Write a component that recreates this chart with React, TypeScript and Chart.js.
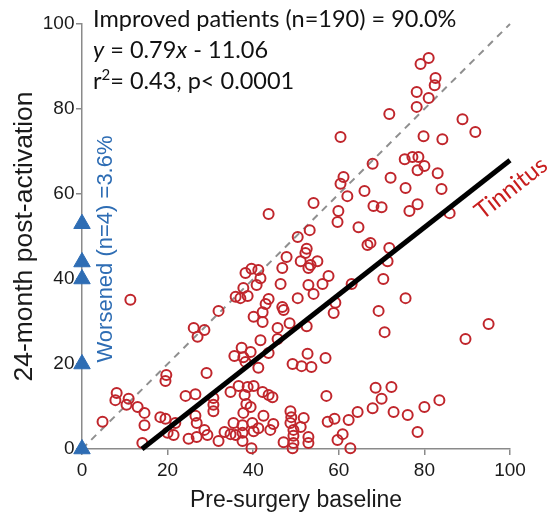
import { useEffect, useRef } from "react";
import { Chart, registerables } from "chart.js";

Chart.register(...registerables);

// Tinnitus scores per patient: pre-surgery baseline (x) and 24-month post-activation (y)
const preSurgeryBaseline: number[] = [
  81.0, 79.1, 82.6, 82.4, 78.2, 81.0, 78.2, 71.8, 88.9, 91.9,
  60.4, 79.8, 84.2, 75.4, 77.2, 78.6, 67.9, 80.0, 78.4, 83.1,
  61.1, 72.1, 60.4, 75.6, 66.0, 84.0, 62.0, 54.1, 68.1, 70.0,
  78.4, 76.5, 85.9, 43.6, 59.9, 59.7, 64.6, 53.2, 50.4, 52.5,
  52.2, 66.7, 67.4, 71.8, 47.8, 51.1, 55.0, 53.4, 52.9, 46.8,
  71.4, 70.4, 38.2, 39.6, 41.2, 41.7, 40.8, 57.6, 46.4, 52.9,
  56.2, 63.0, 37.7, 38.7, 35.9, 54.1, 50.4, 43.6, 75.6, 37.0,
  11.3, 31.9, 26.1, 28.6, 27.0, 42.9, 42.2, 40.1, 42.2, 45.7,
  46.8, 47.1, 69.3, 59.2, 58.8, 48.5, 52.5, 70.7, 89.6, 95.0,
  41.7, 45.7, 43.6, 35.6, 37.3, 37.7, 39.4, 38.2, 41.2, 52.7,
  56.9, 49.2, 51.3, 53.6, 19.7, 19.5, 29.1, 24.2, 26.5, 8.1,
  7.8, 10.9, 10.4, 13.0, 14.6, 14.6, 14.1, 4.8, 18.3, 19.5,
  21.8, 20.0, 21.4, 26.5, 26.8, 24.9, 26.8, 28.6, 29.3, 30.7,
  30.7, 30.7, 31.9, 33.3, 34.7, 35.4, 35.9, 37.5, 37.5, 34.7,
  36.6, 38.7, 40.1, 42.2, 43.6, 44.5, 38.0, 38.4, 39.4, 37.7,
  37.5, 39.8, 41.2, 44.0, 40.1, 39.6, 47.1, 48.7, 48.9, 48.7,
  49.4, 49.4, 49.4, 49.2, 42.4, 44.7, 51.1, 51.8, 52.9, 52.9,
  57.1, 68.6, 72.3, 70.0, 67.9, 72.8, 76.1, 80.0, 83.5, 64.4,
  62.3, 59.0, 57.4, 60.9, 59.7, 62.7, 78.4,
];

const postActivation24m: number[] = [
  92.0, 90.6, 87.3, 85.6, 84.0, 82.6, 80.5, 78.8, 77.6, 74.6,
  73.4, 73.6, 72.9, 68.2, 68.7, 68.7, 67.1, 66.6, 65.6, 64.9,
  64.0, 63.8, 62.4, 61.4, 60.7, 61.2, 59.5, 57.9, 57.2, 56.9,
  57.6, 56.0, 55.5, 55.3, 56.0, 53.4, 52.2, 51.5, 49.9, 47.1,
  46.1, 48.0, 48.5, 47.3, 45.2, 44.2, 44.2, 43.3, 42.6, 42.6,
  44.2, 40.0, 41.4, 42.4, 42.1, 40.2, 38.6, 40.7, 38.8, 38.6,
  38.8, 38.8, 37.9, 36.0, 35.8, 36.5, 35.5, 35.3, 35.5, 35.5,
  35.1, 32.5, 28.5, 28.0, 26.4, 34.1, 32.2, 31.1, 29.9, 28.5,
  33.4, 32.7, 32.5, 34.4, 32.0, 29.6, 28.9, 27.5, 25.9, 29.4,
  25.6, 25.9, 22.6, 21.9, 23.8, 21.6, 22.8, 20.5, 19.1, 22.4,
  21.4, 20.0, 19.5, 19.3, 17.4, 16.0, 17.9, 12.5, 12.9, 13.2,
  11.5, 11.8, 10.4, 9.9, 8.5, 5.6, 1.4, 6.4, 7.5, 7.1,
  6.1, 3.8, 3.3, 7.8, 6.1, 2.4, 2.8, 4.5, 3.3, 12.0,
  10.4, 8.9, 1.9, 4.0, 3.5, 6.1, 3.3, 3.8, 1.9, 13.4,
  14.8, 14.6, 14.8, 13.4, 12.7, 12.2, 12.7, 10.6, 9.9, 8.5,
  5.6, 6.1, 4.9, 4.5, 4.2, 0.2, 1.6, 8.9, 7.5, 6.1,
  4.5, 3.1, 1.4, 0.2, 7.8, 5.9, 5.2, 7.3, 2.8, 1.4,
  12.5, 14.4, 14.6, 11.8, 9.6, 8.7, 8.0, 9.9, 11.5, 8.7,
  6.8, 7.1, 6.4, 3.5, 2.1, 0.2, 4.0,
];

// Patients whose score went up (baseline shown at 0)
const worsenedScores: number[] = [0, 20, 40, 44, 53];

// Linear fit and summary statistics
const FIT_SLOPE = 0.79;
const FIT_INTERCEPT = -11.06;
const R_SQUARED = "0.43";
const P_VALUE = "0.0001";
const IMPROVED_N = 190;
const IMPROVED_PCT = "90.0%";
const WORSENED_N = 4;
const WORSENED_PCT = "3.6%";

const AXIS_MIN = 0;
const AXIS_MAX = 100;
const AXIS_STEP = 20;

const X_TITLE = "Pre-surgery baseline";
const Y_TITLE = "24-month post-activation";
const SERIES_LABEL = "Tinnitus";

const SANS = "'Liberation Sans', Arial, sans-serif";
const NOTE_FONT = "Lato, 'Open Sans', sans-serif";
const RED = "#C0262C";
const LABEL_RED = "#C81E1E";
const BLUE = "#2E6DB4";
const AXIS_GREY = "#8a8a8a";
const INK = "#1a1a1a";

const notesPlugin = {
  id: "notes",
  afterDatasetsDraw(chart: any) {
    const { ctx, chartArea, scales } = chart;
    ctx.save();

    // summary block, top-left of the plot
    const left = chartArea.left + 11;
    const size = 23.5;
    ctx.fillStyle = "#111";
    ctx.textAlign = "left";
    ctx.textBaseline = "alphabetic";
    ctx.font = `${size}px ${NOTE_FONT}`;
    ctx.fillText(`Improved patients (n=${IMPROVED_N}) = ${IMPROVED_PCT}`, left, chartArea.top + 3);

    const eqParts: [string, boolean][] = [
      ["y", true],
      [` = ${FIT_SLOPE}`, false],
      ["x", true],
      [` - ${Math.abs(FIT_INTERCEPT)}`, false],
    ];
    let x = left;
    const eqY = chartArea.top + 34;
    for (const [txt, italic] of eqParts) {
      ctx.font = `${italic ? "italic " : ""}${size}px ${NOTE_FONT}`;
      ctx.fillText(txt, x, eqY);
      x += ctx.measureText(txt).width;
    }

    const rY = chartArea.top + 65;
    x = left;
    ctx.font = `${size}px ${NOTE_FONT}`;
    ctx.fillText("r", x, rY);
    x += ctx.measureText("r").width;
    ctx.font = `15px ${NOTE_FONT}`;
    ctx.fillText("2", x, rY - 9);
    x += ctx.measureText("2").width;
    ctx.font = `${size}px ${NOTE_FONT}`;
    ctx.fillText(`= ${R_SQUARED}, p< ${P_VALUE}`, x, rY);

    // series label alongside the fit line
    const endX = scales.x.getPixelForValue(AXIS_MAX);
    const endY = scales.y.getPixelForValue(FIT_SLOPE * AXIS_MAX + FIT_INTERCEPT);
    const startX = scales.x.getPixelForValue(-FIT_INTERCEPT / FIT_SLOPE);
    const startY = scales.y.getPixelForValue(0);
    const angle = Math.atan2(endY - startY, endX - startX);
    ctx.save();
    ctx.translate(endX + 1, endY + 28);
    ctx.rotate(angle);
    ctx.fillStyle = LABEL_RED;
    ctx.font = `24px ${NOTE_FONT}`;
    ctx.textAlign = "center";
    ctx.textBaseline = "middle";
    ctx.fillText(SERIES_LABEL, 0, 0);
    ctx.restore();

    // worsened group label, vertical
    ctx.save();
    ctx.translate(chartArea.left + 24, 249);
    ctx.rotate(-Math.PI / 2);
    ctx.fillStyle = BLUE;
    ctx.font = `22px ${SANS}`;
    ctx.textAlign = "center";
    ctx.textBaseline = "middle";
    ctx.fillText(`Worsened (n=${WORSENED_N}) =${WORSENED_PCT}`, 0, 0);
    ctx.restore();

    ctx.restore();
  },
};

export default function App() {
  const canvasRef = useRef<HTMLCanvasElement | null>(null);

  useEffect(() => {
    const canvas = canvasRef.current;
    if (!canvas) return;

    const patients = preSurgeryBaseline.map((x, i) => ({ x, y: postActivation24m[i] }));
    const worsened = worsenedScores.map((y) => ({ x: 0, y }));
    const fitLine = [
      { x: -FIT_INTERCEPT / FIT_SLOPE, y: 0 },
      { x: AXIS_MAX, y: FIT_SLOPE * AXIS_MAX + FIT_INTERCEPT },
    ];
    const identity = [
      { x: AXIS_MIN, y: AXIS_MIN },
      { x: AXIS_MAX, y: AXIS_MAX },
    ];

    const axisCommon = (title: string, titleSize: number, titlePad: number) => ({
      type: "linear" as const,
      min: AXIS_MIN,
      max: AXIS_MAX,
      ticks: {
        stepSize: AXIS_STEP,
        color: INK,
        font: { size: 19, family: SANS },
        maxRotation: 0,
      },
      grid: {
        drawOnChartArea: false,
        drawTicks: true,
        tickLength: 6,
        color: AXIS_GREY,
        lineWidth: 1.5,
      },
      border: { display: true, color: AXIS_GREY, width: 1.5 },
      title: {
        display: true,
        text: title,
        color: INK,
        font: { size: titleSize, family: SANS },
        padding: { top: titlePad, bottom: 0 },
      },
    });

    const xAxis: any = axisCommon(X_TITLE, 23, 3);
    xAxis.ticks.padding = 4;
    xAxis.afterFit = (s: any) => {
      s.height = 65;
    };
    const yAxis: any = axisCommon(Y_TITLE, 26.5, 9);
    yAxis.ticks.padding = 1.5;
    yAxis.afterFit = (s: any) => {
      s.width = 82;
    };

    const chart = new Chart(canvas, {
      type: "scatter",
      data: {
        datasets: [
          {
            label: "Worsened",
            data: worsened,
            pointStyle: "triangle",
            pointRadius: 9.5,
            backgroundColor: BLUE,
            borderColor: BLUE,
            borderWidth: 1,
            order: 0,
            clip: false,
          } as any,
          {
            type: "line",
            label: "Linear fit",
            data: fitLine,
            borderColor: "#000",
            borderWidth: 5,
            pointRadius: 0,
            order: 1,
            clip: false,
          } as any,
          {
            label: SERIES_LABEL,
            data: patients,
            pointStyle: "circle",
            pointRadius: 5,
            borderWidth: 2,
            borderColor: RED,
            backgroundColor: "rgba(0,0,0,0)",
            order: 2,
            clip: false,
          } as any,
          {
            type: "line",
            label: "Identity",
            data: identity,
            borderColor: "#8f8f8f",
            borderWidth: 2,
            borderDash: [7, 6],
            pointRadius: 0,
            order: 3,
            clip: false,
          } as any,
        ],
      },
      options: {
        responsive: false,
        animation: false,
        events: [],
        layout: { padding: { left: 0, right: 40, top: 24, bottom: 0 } },
        plugins: {
          legend: { display: false },
          tooltip: { enabled: false },
        },
        scales: { x: xAxis, y: yAxis },
      },
      plugins: [notesPlugin],
    });

    return () => chart.destroy();
  }, []);

  return (
    <div style={{ position: "fixed", left: 0, top: 0, width: 550, height: 514, background: "#fff" }}>
      <canvas ref={canvasRef} width={550} height={514} style={{ display: "block" }} />
    </div>
  );
}
